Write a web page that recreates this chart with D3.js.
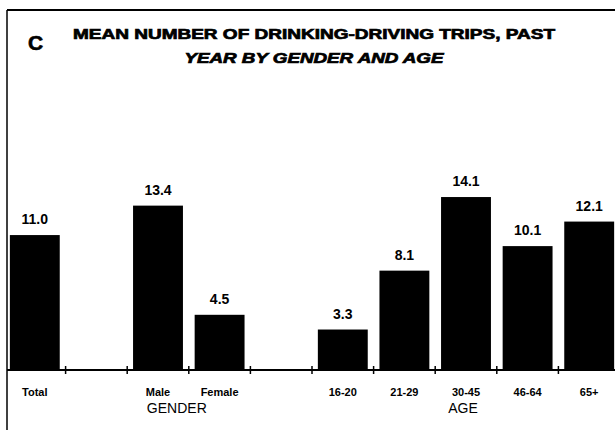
<!DOCTYPE html>
<html>
<head>
<meta charset="utf-8">
<script src="https://cdn.jsdelivr.net/npm/d3@7"></script>
<style>
  body { margin: 0; background: #fff; }
  svg { display: block; font-family: "Liberation Sans", Arial, sans-serif; }
</style>
</head>
<body>
<div id="chart"></div>
<script>
// Data
const categories = ["Total", "Male", "Female", "16-20", "21-29", "30-45", "46-64", "65+"];
const values = [11.0, 13.4, 4.5, 3.3, 8.1, 14.1, 10.1, 12.1];
const valueLabels = ["11.0", "13.4", "4.5", "3.3", "8.1", "14.1", "10.1", "12.1"];
// slot order along the axis, empty slots separate the groups
const slots = ["Total", "gap1", "Male", "Female", "gap2", "16-20", "21-29", "30-45", "46-64", "65+"];
const groupLabels = ["GENDER", "AGE"];
const titleLines = ["MEAN NUMBER OF DRINKING-DRIVING TRIPS, PAST", "YEAR BY GENDER AND AGE"];

const width = 615, height = 430;
const baseY = 370;

const svg = d3.select("#chart").append("svg")
  .attr("width", width)
  .attr("height", height);

const x = d3.scaleBand()
  .domain(slots)
  .range([4, 620])
  .paddingInner(0.19)
  .paddingOuter(0.095);

const y = d3.scaleLinear()
  .domain([0, 15])
  .range([baseY, 186]);

const data = categories.map((c, i) => ({cat: c, value: values[i], label: valueLabels[i]}));

// frame (top and left)
svg.append("line")
  .attr("x1", 7).attr("x2", width)
  .attr("y1", 10).attr("y2", 10)
  .attr("stroke", "#000").attr("stroke-width", 2);
svg.append("line")
  .attr("x1", 7).attr("x2", 7)
  .attr("y1", 10).attr("y2", height)
  .attr("stroke", "#000").attr("stroke-width", 1.5);

// title
svg.append("text")
  .attr("x", 28).attr("y", 50)
  .attr("font-size", 21).attr("font-weight", "bold")
  .attr("stroke", "#000").attr("stroke-width", 0.6)
  .text("C");

svg.selectAll(".title")
  .data(titleLines)
  .enter()
  .append("text")
  .attr("class", "title")
  .attr("x", 314)
  .attr("y", (d, i) => 39 + i * 24)
  .attr("text-anchor", "middle")
  .attr("font-size", 14)
  .attr("font-weight", "bold")
  .attr("font-style", (d, i) => i === 1 ? "italic" : "normal")
  .attr("stroke", "#000")
  .attr("stroke-width", 0.7)
  .attr("textLength", (d, i) => i === 0 ? 482 : 259)
  .attr("lengthAdjust", "spacingAndGlyphs")
  .text(d => d);

// bars
svg.selectAll(".bar")
  .data(data)
  .enter()
  .append("rect")
  .attr("class", "bar")
  .attr("x", d => x(d.cat))
  .attr("y", d => y(d.value))
  .attr("width", x.bandwidth())
  .attr("height", d => y(0) - y(d.value))
  .attr("fill", "#000");

// value labels
svg.selectAll(".val")
  .data(data)
  .enter()
  .append("text")
  .attr("class", "val")
  .attr("x", d => x(d.cat) + x.bandwidth() / 2)
  .attr("y", d => y(d.value) - 11)
  .attr("text-anchor", "middle")
  .attr("font-size", 14)
  .attr("font-weight", "bold")
  .text(d => d.label);

// baseline with ticks between slots
svg.append("line")
  .attr("x1", 7).attr("x2", width)
  .attr("y1", y(0)).attr("y2", y(0))
  .attr("stroke", "#000").attr("stroke-width", 2);

const step = x.step();
const tickX = slots.slice(1).map(s => x(s) - step * x.paddingInner() / 2);
svg.selectAll(".tick")
  .data(tickX)
  .enter()
  .append("line")
  .attr("class", "tick")
  .attr("x1", d => d).attr("x2", d => d)
  .attr("y1", y(0) - 4).attr("y2", y(0) + 4)
  .attr("stroke", "#000").attr("stroke-width", 1.5);

// category labels
svg.selectAll(".cat")
  .data(categories)
  .enter()
  .append("text")
  .attr("class", "cat")
  .attr("x", d => x(d) + x.bandwidth() / 2)
  .attr("y", 396)
  .attr("text-anchor", "middle")
  .attr("font-size", 11)
  .attr("font-weight", "bold")
  .text(d => d);

// group labels
const genderX = (x("Male") + x("Female") + x.bandwidth()) / 2 - 12;
const ageX = x("30-45") + x.bandwidth() / 2 - 3;
svg.selectAll(".group")
  .data(groupLabels)
  .enter()
  .append("text")
  .attr("class", "group")
  .attr("x", (d, i) => i === 0 ? genderX : ageX)
  .attr("y", 413)
  .attr("text-anchor", "middle")
  .attr("font-size", 14)
  .text(d => d);
</script>
</body>
</html>
